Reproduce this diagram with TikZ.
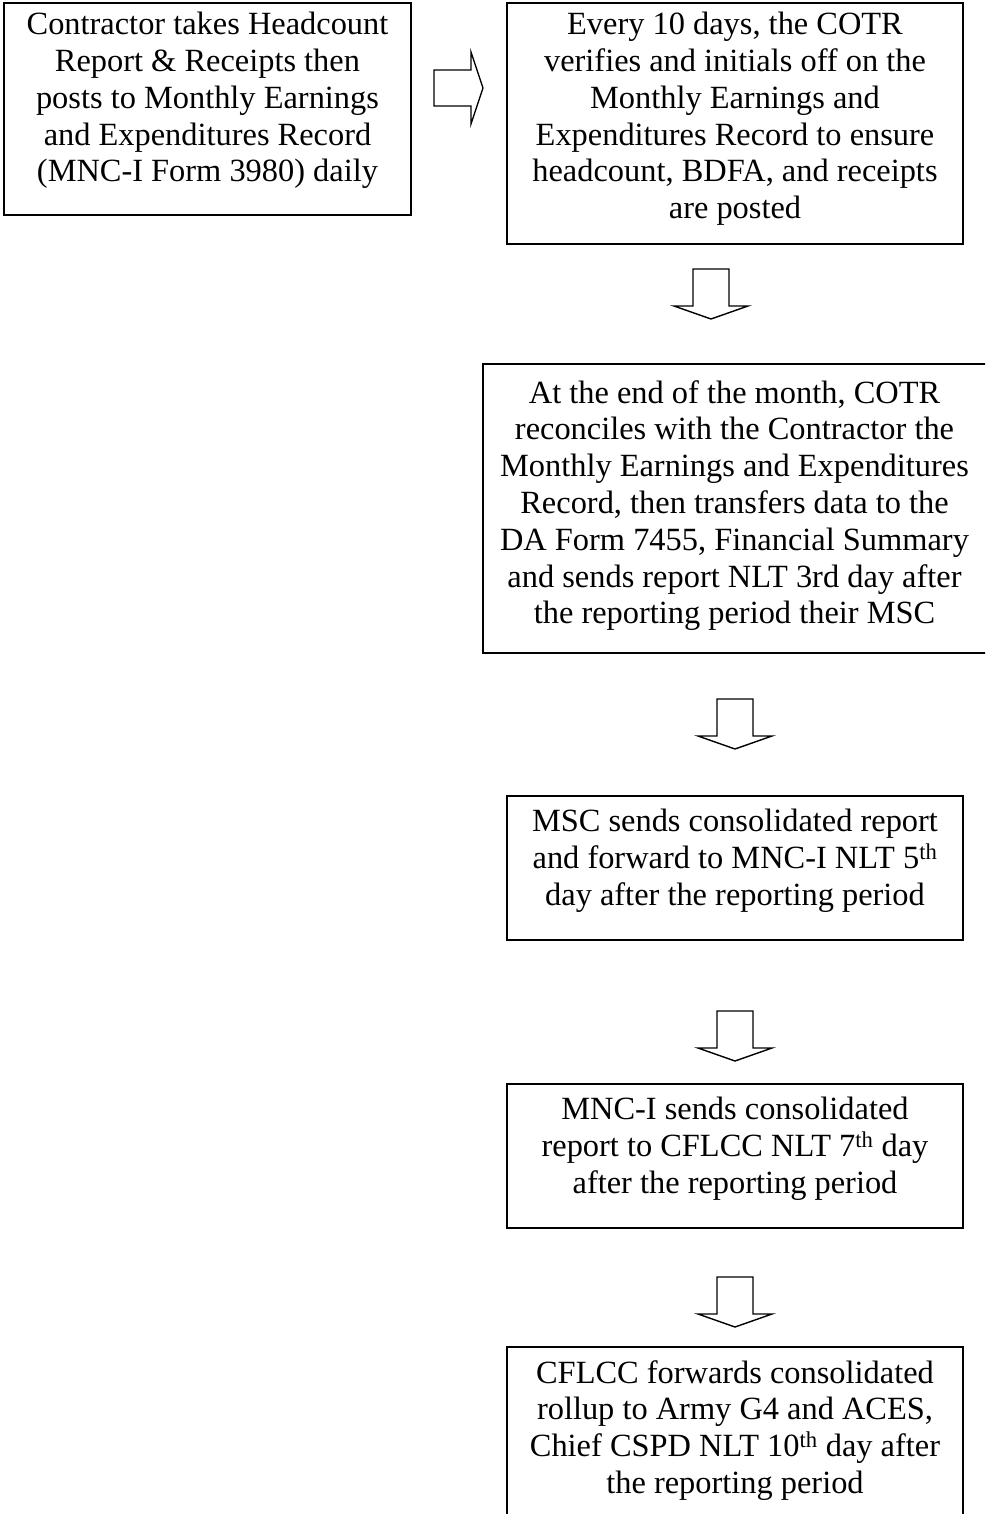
\documentclass[tikz,border=0pt]{standalone}
\usepackage{fontspec}
\setmainfont{Liberation Serif}
\begin{document}
\begin{tikzpicture}[x=1pt,y=-1pt,
  stepbox/.style={draw, line width=2pt, rectangle, inner sep=0pt},
  steptext/.style={anchor=north, align=center, inner sep=0pt,
    font=\fontsize{32.4}{36.8}\selectfont},
  blockarrow/.style={draw, line width=1.4pt, line join=miter},
  downblock/.pic={\path[blockarrow] (0,0) -- (37,-13) -- (18,-13) -- (18,-50)
     -- (-18,-50) -- (-18,-13) -- (-37,-13) -- cycle;},
  rightblock/.pic={\path[blockarrow] (0,0) -- (-12,-36) -- (-12,-18) -- (-49,-18)
     -- (-49,18) -- (-12,18) -- (-12,36) -- cycle;}]
\useasboundingbox (0,0) rectangle (985,1514);
\clip (0,0) rectangle (985,1514);

% boxes
\node[stepbox, minimum width=407pt, minimum height=212pt] (b1) at (207.5,109) {};
\node[stepbox, minimum width=456pt, minimum height=241pt] (b2) at (735,123.5) {};
\node[stepbox, minimum width=517pt, minimum height=289pt] (b3) at (741.5,508.5) {};
\node[stepbox, minimum width=456pt, minimum height=144pt] (b4) at (735,868) {};
\node[stepbox, minimum width=456pt, minimum height=144pt] (b5) at (735,1156) {};
\node[stepbox, minimum width=456pt, minimum height=180pt] (b6) at (735,1437) {};

% texts
\node[steptext, yshift=-10pt] (t1) at (b1.north) {Contractor takes Headcount\\Report \& Receipts then\\posts to Monthly Earnings\\and Expenditures Record\\(MNC-I Form 3980) daily};
\node[steptext, yshift=-10pt] (t2) at (b2.north) {Every 10 days, the COTR\\verifies and initials off on the\\Monthly Earnings and\\Expenditures Record to ensure\\headcount, BDFA, and receipts\\are posted};
\node[steptext, yshift=-17pt, xshift=-7pt] (t3) at (b3.north) {At the end of the month, COTR\\reconciles with the Contractor the\\Monthly Earnings and Expenditures\\Record, then transfers data to the\\DA Form 7455, Financial Summary\\and sends report NLT 3rd day after\\the reporting period their MSC};
\node[steptext, yshift=-14pt] (t4) at (b4.north) {MSC sends consolidated report\\and forward to MNC-I NLT 5\textsuperscript{th}\\day after the reporting period};
\node[steptext, yshift=-14pt] (t5) at (b5.north) {MNC-I sends consolidated\\report to CFLCC NLT 7\textsuperscript{th} day\\after the reporting period};
\node[steptext, yshift=-14pt] (t6) at (b6.north) {CFLCC forwards consolidated\\rollup to Army G4 and ACES,\\Chief CSPD NLT 10\textsuperscript{th} day after\\the reporting period};

% block arrows
\coordinate (r1) at (483,88);
\coordinate (d1) at (711,319);
\coordinate (d2) at (735,749);
\coordinate (d3) at (735,1061);
\coordinate (d4) at (735,1327);
\pic at (r1) {rightblock};
\pic at (d1) {downblock};
\pic at (d2) {downblock};
\pic at (d3) {downblock};
\pic at (d4) {downblock};
\end{tikzpicture}
\end{document}
